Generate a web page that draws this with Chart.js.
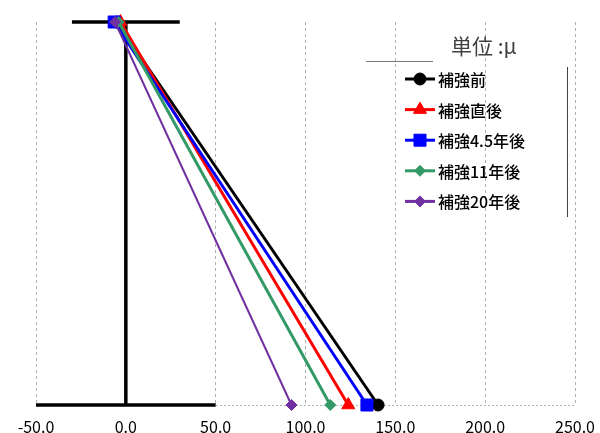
<!DOCTYPE html>
<html>
<head>
<meta charset="utf-8">
<script src="https://cdn.jsdelivr.net/npm/chart.js@4/dist/chart.umd.min.js"></script>
<style>
  html, body { margin: 0; padding: 0; background: #fff; }
  #wrap { width: 600px; height: 433px; position: relative; }
</style>
</head>
<body>
<div id="wrap"><canvas id="c" width="600" height="433"></canvas></div>
<script>
// ---- data ----
const depthLevels = [1, 0];                 // top, bottom of section
const seriesNames = ['補強前', '補強直後', '補強4.5年後', '補強11年後', '補強20年後'];
const topStrain = [-5, -3, -6.5, -4, -6];
const bottomStrain = [140.4, 123.8, 134.2, 113.8, 92.2];
const xTicks = [-50, 0, 50, 100, 150, 200, 250];
const topFlangeX = [-30, 30];
const bottomFlangeX = [-50, 50];
const webX = [0, 0];
const webY = [1, 0];
const unitLabel = '単位 :μ';

// ---- styles ----
const colors = ['#000000', '#FF0000', '#0000FF', '#339966', '#7030A0'];
const markers = ['circle', 'triangle', 'rect', 'rectRot', 'rectRot'];
const markerSizes = [6, 7.5, 8.5, 5.5, 5.5];
const lineWidths = [3, 3, 3, 3, 2];

const datasets = [];
seriesNames.forEach((name, i) => {
  datasets.push({
    label: name,
    data: [
      { x: topStrain[i], y: depthLevels[0] },
      { x: bottomStrain[i], y: depthLevels[1] }
    ],
    borderColor: colors[i],
    backgroundColor: colors[i],
    borderWidth: lineWidths[i],
    pointStyle: markers[i],
    pointRadius: markerSizes[i],
    pointBorderWidth: 1,
    pointBackgroundColor: colors[i],
    pointBorderColor: colors[i],
    order: 5 - i,
    clip: false,
    isSeries: true
  });
});
function structLine(xs, ys) {
  return {
    label: '',
    data: xs.map((x, k) => ({ x: x, y: ys[k] })),
    borderColor: '#000',
    borderWidth: 3.5,
    pointRadius: 0,
    order: 10,
    clip: false,
    isSeries: false
  };
}
datasets.push(structLine(topFlangeX, [depthLevels[0], depthLevels[0]]));
datasets.push(structLine(bottomFlangeX, [depthLevels[1], depthLevels[1]]));
datasets.push(structLine(webX, webY));

const FONT = '"Noto Sans CJK JP", "Noto Sans", sans-serif';

const decoPlugin = {
  id: 'deco',
  afterDraw(chart) {
    const ctx = chart.ctx;
    ctx.save();
    // unit label
    ctx.fillStyle = '#404040';
    ctx.font = '21px ' + FONT;
    ctx.textBaseline = 'middle';
    ctx.textAlign = 'left';
    ctx.fillText(unitLabel, 451, 46);
    // decorative partial legend frame
    ctx.strokeStyle = '#777';
    ctx.lineWidth = 1;
    ctx.beginPath();
    ctx.moveTo(366, 61.5); ctx.lineTo(433, 61.5);
    ctx.stroke();
    ctx.strokeStyle = '#444';
    ctx.beginPath();
    ctx.moveTo(567.5, 67); ctx.lineTo(567.5, 217);
    ctx.stroke();
    // legend
    const series = chart.data.datasets.filter(d => d.isSeries);
    series.forEach((d, i) => {
      const y = 79 + i * 30.6;
      ctx.strokeStyle = d.borderColor;
      ctx.lineWidth = 3;
      ctx.beginPath();
      ctx.moveTo(405, y); ctx.lineTo(435, y);
      ctx.stroke();
      ctx.fillStyle = d.backgroundColor;
      ctx.strokeStyle = d.borderColor;
      ctx.lineWidth = 1;
      if (Chart.helpers && Chart.helpers.drawPoint) {
        Chart.helpers.drawPoint(ctx, { pointStyle: d.pointStyle, radius: d.pointRadius, rotation: 0, borderWidth: 1 }, 420, y);
      }
      ctx.fillStyle = '#000';
      ctx.font = '500 16px ' + FONT;
      ctx.textAlign = 'left';
      ctx.textBaseline = 'middle';
      ctx.fillText(d.label, 438, y + 1);
    });
    ctx.restore();
  }
};

new Chart(document.getElementById('c'), {
  type: 'scatter',
  data: { datasets: datasets },
  options: {
    responsive: false,
    animation: false,
    showLine: true,
    layout: { padding: { left: 36, right: 25, top: 22, bottom: 0 } },
    plugins: { legend: { display: false }, tooltip: { enabled: false } },
    elements: { line: { tension: 0 } },
    scales: {
      x: {
        type: 'linear',
        min: -50, max: 250,
        afterBuildTicks: (axis) => { axis.ticks = xTicks.map(v => ({ value: v })); },
        afterFit: (axis) => { axis.height = 28; axis.paddingLeft = 0; axis.paddingRight = 0; },
        ticks: {
          color: '#000',
          padding: 14,
          maxRotation: 0,
          font: { family: FONT, size: 16, lineHeight: 1 },
          callback: (v) => Number(v).toFixed(1)
        },
        grid: { color: '#b0b0b0', lineWidth: 1, drawTicks: false },
        border: { display: false, dash: [3, 3] }
      },
      y: {
        type: 'linear',
        min: 0, max: 1,
        afterFit: (axis) => { axis.width = 0; axis.paddingTop = 0; axis.paddingBottom = 0; },
        ticks: { display: false, stepSize: 1 },
        grid: {
          drawTicks: false,
          color: (c) => (c.tick && c.tick.value === 0) ? '#b0b0b0' : 'rgba(0,0,0,0)'
        },
        border: { display: false, dash: [2, 2] }
      }
    }
  },
  plugins: [decoPlugin]
});
</script>
</body>
</html>
